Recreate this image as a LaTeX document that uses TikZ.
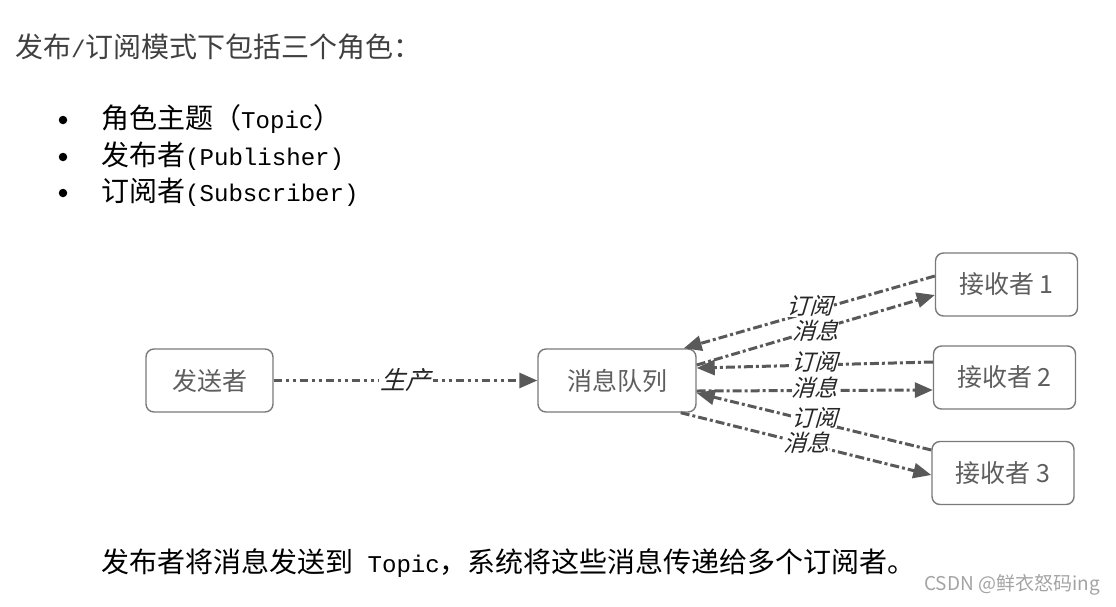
\documentclass[tikz,border=0pt]{standalone}
\usepackage{fontspec}
\setmainfont{Noto Sans CJK SC}
\newfontfamily\slant[FakeSlant=0.3]{Noto Sans CJK SC}
\newfontfamily\mono[Scale=0.86]{Liberation Mono}
\usepackage{tikz}
\usetikzlibrary{shapes,arrows,arrows.meta,positioning}
\definecolor{boxline}{HTML}{7A7A7A}
\definecolor{boxtext}{HTML}{5E5E5E}
\definecolor{flow}{HTML}{595959}
\definecolor{wmark}{HTML}{A3A3A3}

\begin{document}
\begin{tikzpicture}[x=1pt,y=-1pt,
	role/.style={shape=rectangle,rounded corners=8pt,draw=boxline,line width=1.4pt,minimum height=63pt,text=boxtext,font=\fontsize{25}{30}\selectfont},
	txt/.style={anchor=west,inner sep=0pt,font=\fontsize{28}{34}\selectfont},
	dot/.style={shape=circle,fill=black,inner sep=0pt,minimum size=8.5pt},
	sub/.style={color=flow,line width=3pt,dash pattern=on 9pt off 3pt on 3pt off 3pt,-{Triangle[length=18pt,width=15pt]}},
	prod/.style={color=flow,line width=3pt,dash pattern=on 8pt off 4pt on 3pt off 4pt on 3pt off 4pt,-{Triangle[length=18pt,width=15pt]}},
	lbl/.style={fill=white,inner sep=0pt,text=black!85,font=\slant\fontsize{23}{24}\selectfont}]
	\useasboundingbox (0,0) rectangle (1116,606);
	
	\node[txt,text=black!75] (title) at (15,47) {发布{\mono/}订阅模式下包括三个角色：};
	\node[dot] (d1) at (63,120) {};
	\node[dot] (d2) at (63,157) {};
	\node[dot] (d3) at (63,193) {};
	\node[txt] (i1) at (101,119) {角色主题（{\mono Topic}）};
	\node[txt] (i2) at (101,156) {发布者{\mono(Publisher)}};
	\node[txt] (i3) at (101,192) {订阅者{\mono(Subscriber)}};
	
	\node[role,minimum width=127pt] (send) at (209.5,380.5) {发送者};
	\node[role,minimum width=158pt] (queue) at (617,380.5) {消息队列};
	\node[role,minimum width=142pt] (r1) at (1006.5,284.5) {接收者 1};
	\node[role,minimum width=142pt] (r2) at (1004.5,377.5) {接收者 2};
	\node[role,minimum width=142pt] (r3) at (1003,473) {接收者 3};
	
	\path [prod]
	(send) edge node[lbl,inner sep=2pt,font=\slant\fontsize{25}{26}\selectfont] {生产} (queue);
	\path [sub]
	([yshift=8.5pt]r1.west) edge node[lbl,yshift=6pt] {订阅} ([xshift=-13pt]queue.north east)
	([yshift=15.5pt]r2.west) edge node[lbl,yshift=3pt] {订阅} ([yshift=12.5pt]queue.east)
	([yshift=23pt]r3.west) edge node[lbl,yshift=4pt] {订阅} ([yshift=-12.5pt]queue.east);
	\path [sub]
	([yshift=15.5pt]queue.east) edge node[lbl,yshift=-1pt] {消息} ([yshift=-10.5pt]r1.west)
	([yshift=-10.5pt]queue.east) edge node[lbl,yshift=3pt] {消息} ([yshift=-12.5pt]r2.west)
	([xshift=-16pt]queue.south east) edge node[lbl,yshift=1pt] {消息} ([yshift=-2pt]r3.west);
	
	\node[txt] (note) at (101,563) {发布者将消息发送到{\mono\ Topic}，系统将这些消息传递给多个订阅者。};
	\node[anchor=east,inner sep=0pt,text=wmark,font=\fontsize{19}{22}\selectfont] (wm) at (1100,585) {CSDN @鲜衣怒码ing};
\end{tikzpicture}
\end{document}
